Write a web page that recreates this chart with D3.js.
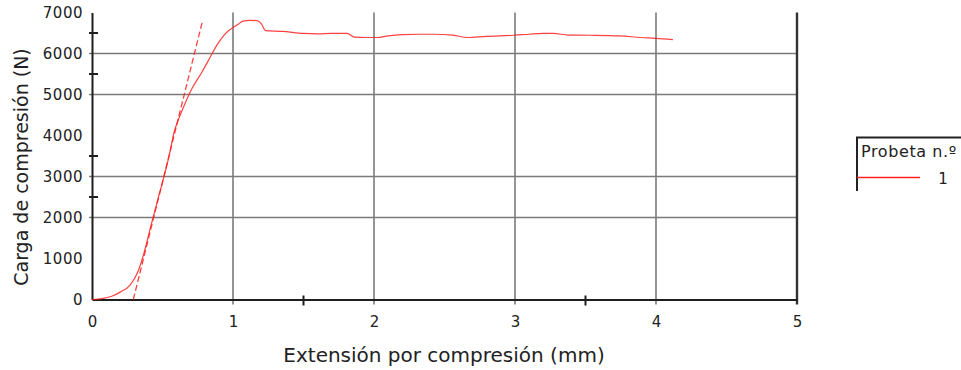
<!DOCTYPE html>
<html>
<head>
<meta charset="utf-8">
<script src="https://cdn.jsdelivr.net/npm/d3@7"></script>
<style>
  html, body { margin: 0; padding: 0; background: #fff; }
  svg { display: block; font-family: "DejaVu Sans", Verdana, sans-serif; }
</style>
</head>
<body>
<svg id="chart" width="961" height="370"></svg>
<script>
// Compression test, specimen 1: extension (mm) vs. load (N)
const extension = [0, 0.07, 0.14, 0.2, 0.27, 0.33, 0.37, 0.41, 0.46, 0.51, 0.55, 0.58, 0.62, 0.65, 0.71, 0.78,
  0.84, 0.89, 0.93, 0.97, 1.0, 1.04, 1.07, 1.12, 1.17, 1.2, 1.23, 1.35, 1.5, 1.6, 1.7, 1.81, 1.86, 1.95, 2.02, 2.1,
  2.2, 2.32, 2.42, 2.56, 2.66, 2.8, 2.99, 3.1, 3.2, 3.27, 3.38, 3.53, 3.74, 3.89, 4.0, 4.12];
const load = [0, 20, 80, 180, 350, 715, 1150, 1690, 2350, 2990, 3550, 4050, 4450, 4700, 5150, 5550,
  5920, 6230, 6420, 6560, 6630, 6720, 6790, 6810, 6800, 6730, 6560, 6540, 6490, 6480, 6490, 6490, 6400, 6390, 6390, 6430,
  6460, 6470, 6470, 6450, 6390, 6420, 6445, 6470, 6490, 6490, 6450, 6445, 6430, 6390, 6370, 6340];

// Fitted elastic-modulus line
const modulusX = [0.293, 0.785];
const modulusY = [0, 6810];

const xTicks = [0, 1, 2, 3, 4, 5];
const xMinorTicks = [1.5, 3.5];
const yTicks = [0, 1000, 2000, 3000, 4000, 5000, 6000, 7000];
const yGrid = [2000, 3000, 5000, 6000];
const yMinorTicks = [2500, 3500, 5500, 6500];
const xGrid = [1, 2, 3, 4];

const seriesName = "1";
const legendTitle = "Probeta n.º";
const xTitle = "Extensión por compresión (mm)";
const yTitle = "Carga de compresión (N)";

const svg = d3.select("#chart");
const x = d3.scaleLinear().domain([0, 5]).range([92, 797]);
const y = d3.scaleLinear().domain([0, 7000]).range([299.5, 12.5]);

const gridColor = "#7a7a7a";
const axisColor = "#1e1e1e";
const textColor = "#222";

// gridlines
svg.append("g").selectAll("line").data(yGrid).join("line")
  .attr("x1", x(0) - 3).attr("x2", x(5))
  .attr("y1", d => y(d)).attr("y2", d => y(d))
  .attr("stroke", gridColor).attr("stroke-width", 1.6);
svg.append("g").selectAll("line").data(xGrid).join("line")
  .attr("x1", d => x(d)).attr("x2", d => x(d))
  .attr("y1", y(7000)).attr("y2", y(0) + 5)
  .attr("stroke", gridColor).attr("stroke-width", 1.6);

// right border
svg.append("line")
  .attr("x1", x(5)).attr("x2", x(5)).attr("y1", y(7000)).attr("y2", y(0) + 5)
  .attr("stroke", "#333").attr("stroke-width", 2.4);

// x axis
const xAxis = d3.axisBottom(x).tickValues(xTicks).tickSize(0).tickPadding(17).tickFormat(d3.format("d"));
const gx = svg.append("g").attr("transform", `translate(0,${y(0)})`).call(xAxis);
gx.select(".domain").attr("stroke", axisColor).attr("stroke-width", 2);
gx.selectAll("text").attr("fill", textColor).style("font-size", "15px")
  .attr("font-family", "DejaVu Sans");
svg.append("g").selectAll("line").data(xMinorTicks).join("line")
  .attr("x1", d => x(d)).attr("x2", d => x(d))
  .attr("y1", y(0) - 4).attr("y2", y(0) + 6)
  .attr("stroke", axisColor).attr("stroke-width", 2);

// y axis
const yAxis = d3.axisLeft(y).tickValues(yTicks).tickSize(0).tickPadding(9).tickFormat(d3.format("d"));
const gy = svg.append("g").attr("transform", `translate(${x(0)},0)`).call(yAxis);
gy.select(".domain").attr("stroke", axisColor).attr("stroke-width", 2);
gy.selectAll("text").attr("fill", textColor).style("font-size", "15px")
  .style("letter-spacing", "0.5px").attr("font-family", "DejaVu Sans");
svg.append("g").selectAll("line").data(yMinorTicks).join("line")
  .attr("x1", x(0) - 3).attr("x2", x(0) + 6)
  .attr("y1", d => y(d)).attr("y2", d => y(d))
  .attr("stroke", axisColor).attr("stroke-width", 2);

// axis titles
svg.append("text")
  .attr("x", 444).attr("y", 362)
  .attr("text-anchor", "middle").attr("fill", textColor)
  .style("font-size", "20px").text(xTitle);
svg.append("text")
  .attr("transform", `translate(28,${167}) rotate(-90)`)
  .attr("text-anchor", "middle").attr("fill", textColor)
  .style("font-size", "19px").text(yTitle);

// data curves
const pts = extension.map((e, i) => [e, load[i]]);
const line = d3.line().x(d => x(d[0])).y(d => y(d[1]));
svg.append("path").datum(pts)
  .attr("d", line.curve(d3.curveMonotoneX)).attr("fill", "none")
  .attr("stroke", "#ff2020").attr("stroke-width", 1.2).attr("stroke-linejoin", "round")
  .attr("opacity", 0.85);
const modPts = modulusX.map((e, i) => [e, modulusY[i]]);
svg.append("path").datum(modPts)
  .attr("d", d3.line().x(d => x(d[0])).y(d => y(d[1]))).attr("fill", "none")
  .attr("stroke", "#ff2020").attr("stroke-width", 1.3).attr("stroke-dasharray", "6,3")
  .attr("opacity", 0.85);

// legend
const lg = svg.append("g");
lg.append("path").attr("d", "M857,191 V137.5 H961")
  .attr("fill", "none").attr("stroke", "#222").attr("stroke-width", 2);
lg.append("text").attr("x", 861).attr("y", 157).attr("fill", textColor)
  .style("font-size", "16px").style("letter-spacing", "0.6px").text(legendTitle);
lg.append("line").attr("x1", 857).attr("x2", 920).attr("y1", 177.5).attr("y2", 177.5)
  .attr("stroke", "#ff2020").attr("stroke-width", 1.5);
lg.append("text").attr("x", 943).attr("y", 184).attr("text-anchor", "middle").attr("fill", textColor)
  .style("font-size", "15px").text(seriesName);
</script>
</body>
</html>
